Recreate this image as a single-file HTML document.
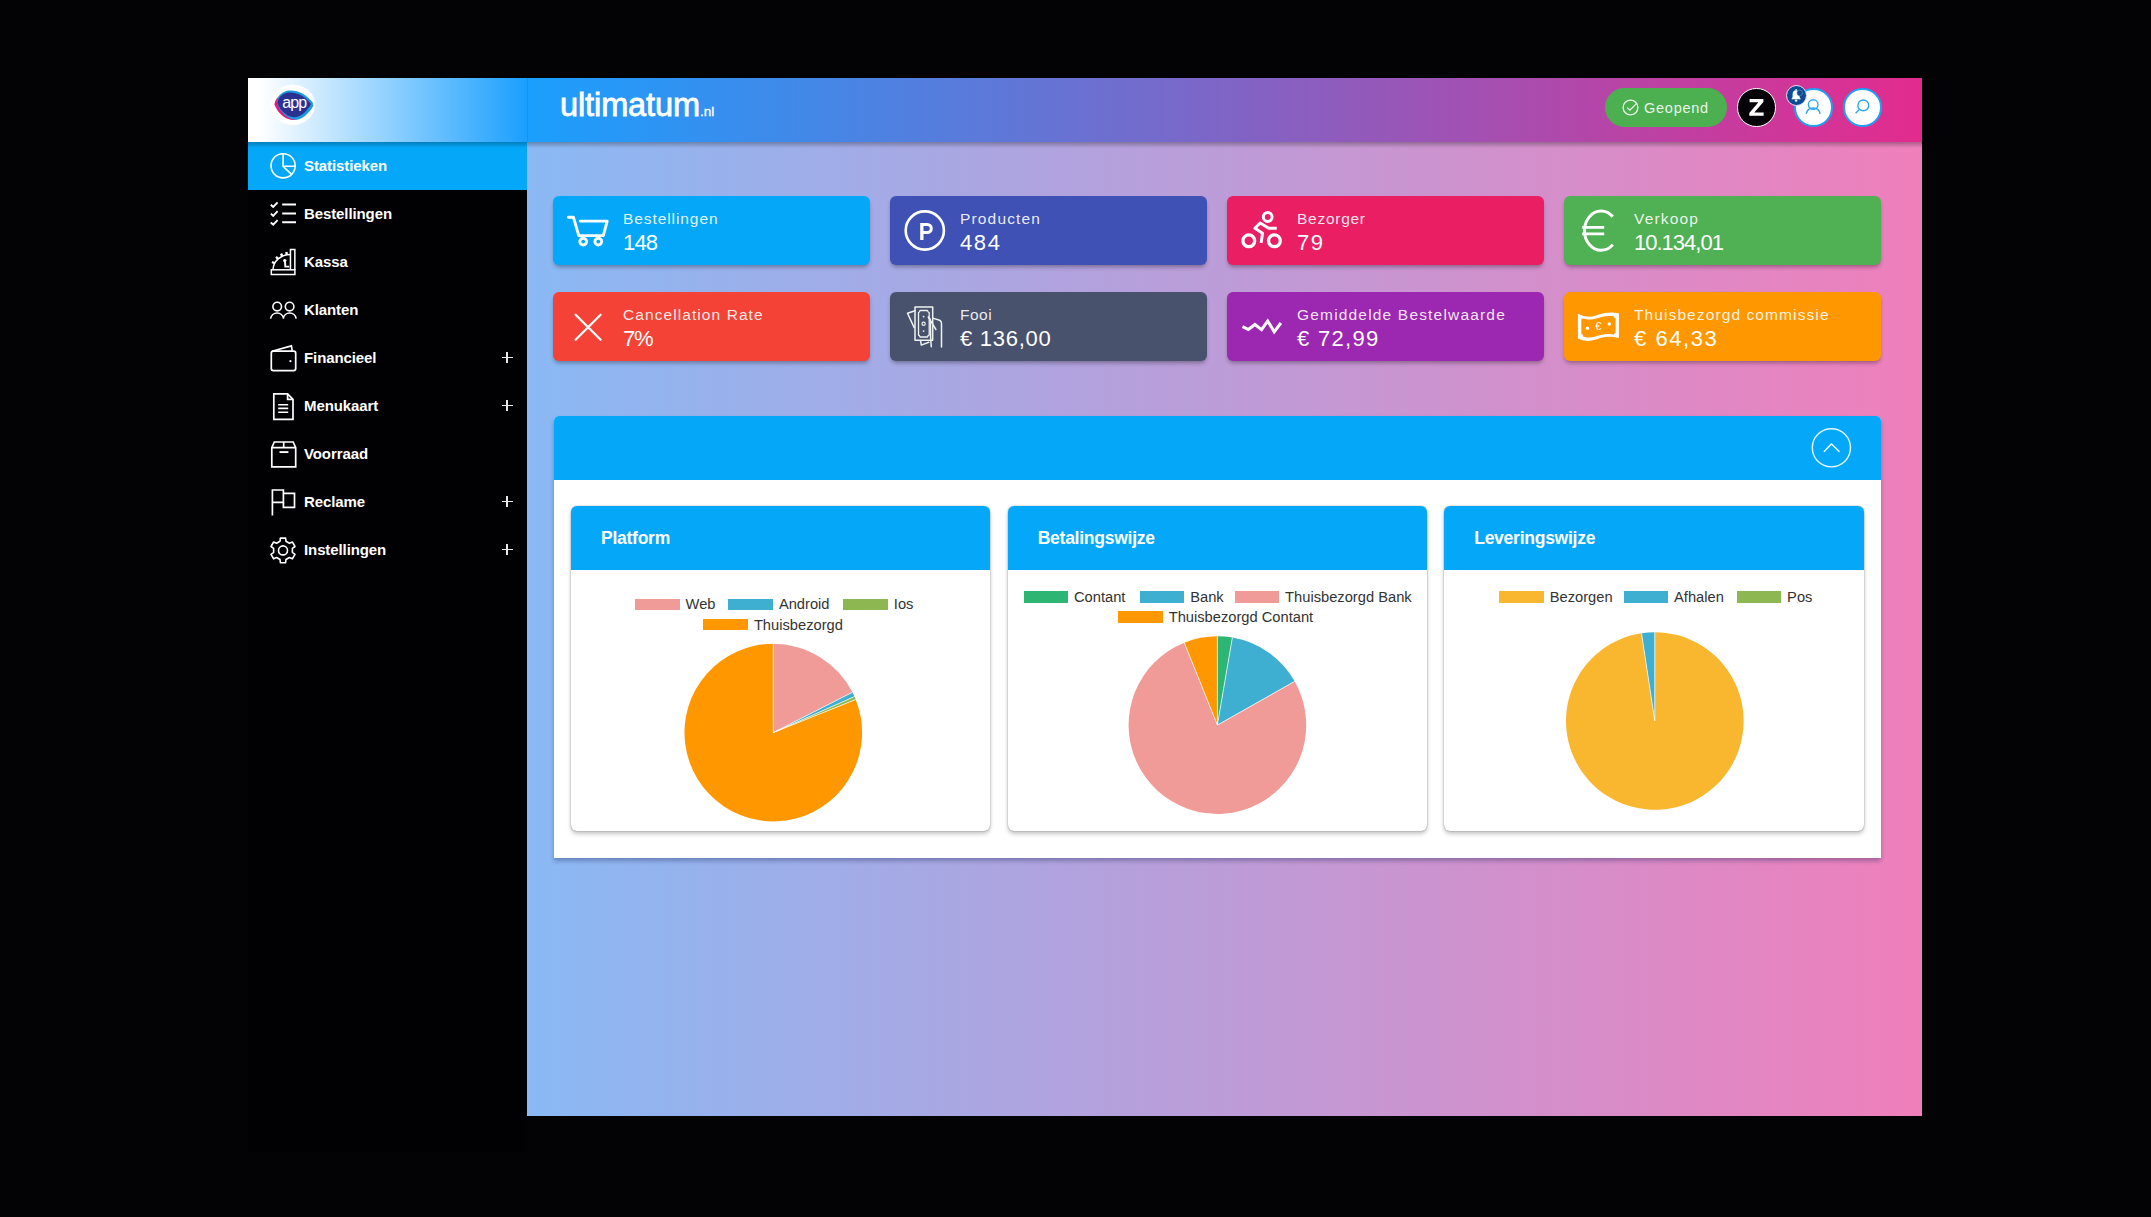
<!DOCTYPE html>
<html><head><meta charset="utf-8">
<style>
*{box-sizing:border-box;margin:0;padding:0}
html,body{width:2151px;height:1217px;overflow:hidden;background:#030204;font-family:"Liberation Sans",sans-serif}
.abs{position:absolute}
#side{left:248px;top:78px;width:279px;height:1074px;background:#010003}
#logo{left:248px;top:78px;width:279px;height:63.5px;background:linear-gradient(to right,#ffffff 0%,#fdfeff 5%,#1a9ffe 100%)}
#hdr{left:527px;top:78px;width:1395px;height:63.5px;background:linear-gradient(to right,#1a9ffe,#e32b8e)}
#main{left:527px;top:141.5px;width:1395px;height:974.5px;background:linear-gradient(to right,#8ab9f4,#ef7fbb)}
#hdrshadow{left:248px;top:141.5px;width:1674px;height:6px;background:linear-gradient(to bottom,rgba(0,0,0,.28),rgba(0,0,0,0))}
.mi{position:absolute;left:248px;width:279px;height:48px;color:#fff;font-weight:bold;font-size:15px}
.mi .t{position:absolute;left:56px;top:0;line-height:48px;letter-spacing:-0.1px}
.mi svg{position:absolute;left:20px;top:9px;width:30px;height:30px;overflow:visible}
.mi .plus{position:absolute;left:253.5px;top:18.5px;width:11px;height:11px}
.mi .plus:before{content:"";position:absolute;left:0;top:4.8px;width:11px;height:1.4px;background:#e8e8e8}
.mi .plus:after{content:"";position:absolute;left:4.8px;top:0;width:1.4px;height:11px;background:#e8e8e8}
.card{position:absolute;width:317px;height:69.4px;border-radius:6px;box-shadow:0 3px 4px -1px rgba(0,0,0,.33);color:#fff}
.card .tt{position:absolute;left:70px;top:13.5px;font-size:15.5px;line-height:18px;color:rgba(255,255,255,.9);white-space:nowrap;letter-spacing:0.95px}
.card .vv{position:absolute;left:70px;top:35.2px;font-size:22px;line-height:24px;white-space:nowrap}
.card svg{position:absolute;left:0;top:0;width:70px;height:70px;overflow:visible}
.ic{position:absolute;top:506px;width:419.3px;height:325px;background:#fff;border-radius:6px;box-shadow:0 0 1.5px rgba(0,0,0,.45),0 3px 4px rgba(0,0,0,.22)}
.ih{position:absolute;left:0;top:0;width:100%;height:63.7px;background:#05a8f9;border-radius:6px 6px 0 0;color:#fff;font-weight:bold;font-size:17.5px;line-height:64px;padding-left:29.8px;letter-spacing:-0.25px}
.lb{position:absolute;height:11.2px}
.lt{position:absolute;font-size:14.7px;line-height:18px;color:#333;white-space:nowrap}
</style></head><body>
<div id="side" class="abs"></div>
<div id="main" class="abs"></div>
<div id="logo" class="abs"></div>
<div id="hdr" class="abs"></div>
<div id="hdrshadow" class="abs"></div>
<div class="abs" style="left:526.5px;top:78px;width:1.5px;height:63.5px;background:rgba(0,40,90,.10)"></div>

<!-- active menu -->
<div class="abs" style="left:248px;top:141.5px;width:279px;height:48px;background:#05a8f9"></div>
<div class="abs" style="left:248px;top:141.5px;width:279px;height:6px;background:linear-gradient(to bottom,rgba(0,0,0,.25),rgba(0,0,0,0))"></div>

<!-- menu items -->
<div class="mi" style="top:141.5px"><svg viewBox="0 0 30 30" fill="none" stroke="#fff" stroke-width="1.6"><circle cx="15.1" cy="14.8" r="12.1"/><path d="M15.1 2.7V15.3H27.2M15.1 15.3L23.3 23.2"/></svg><span class="t">Statistieken</span></div>
<div class="mi" style="top:189.5px"><svg viewBox="0 0 30 30" fill="none" stroke="#fff" stroke-width="2"><path d="M2.8 5.7L5.2 7.9L9.6 3.3M2.8 14.6L5.2 16.8L9.6 12.2M2.8 23.5L5.2 25.7L9.6 21.1" stroke-width="1.9"/><path d="M14.2 5.5H28M14.2 14.4H28M14.2 23.3H28"/></svg><span class="t">Bestellingen</span></div>
<div class="mi" style="top:237.5px"><svg viewBox="0 0 30 30" fill="none" stroke="#fff" stroke-width="1.5"><rect x="3.3" y="22.8" width="23.6" height="4.7"/><path d="M22.45 22.8V2.55H26.85V22.8"/><path d="M5 22.8A17.5 15.5 0 0 1 22.45 7.4"/><path d="M6.64 16.25L4 15M10.13 11.84L8 9.9M14.28 9.11L13 6.6M18.86 7.64L18.3 4.9" stroke-width="2.4"/><circle cx="16.8" cy="13.6" r="1.7" fill="#fff" stroke="none"/><path d="M17 14.5L17.3 19.6H21.2" stroke-width="1.9"/></svg><span class="t">Kassa</span></div>
<div class="mi" style="top:285.5px"><svg viewBox="0 0 30 30" fill="none" stroke="#fff" stroke-width="1.6"><circle cx="9.2" cy="11.6" r="4.3"/><circle cx="21.6" cy="11.6" r="4.3"/><path d="M2.6 23.6A6.6 6.8 0 0 1 15.6 23.6M15.2 23.6A6.6 6.8 0 0 1 28.2 23.6"/></svg><span class="t">Klanten</span></div>
<div class="mi" style="top:333.5px"><svg viewBox="0 0 30 30" fill="none" stroke="#fff" stroke-width="1.7"><rect x="3.3" y="8.2" width="24.4" height="19.4" rx="2"/><path d="M4 8.2L23.4 2.9L24.2 7.8"/><circle cx="22.4" cy="18.2" r="1.1" fill="#fff" stroke="none"/></svg><span class="t">Financieel</span><span class="plus"></span></div>
<div class="mi" style="top:381.5px"><svg viewBox="0 0 30 30" fill="none" stroke="#fff" stroke-width="1.7"><path d="M5.8 2.9H19.6L25 8.4V28.3H5.8Z"/><path d="M19.6 2.9V8.4H25"/><path d="M10.2 13.7H20.2M10.2 17.4H20.2M10.2 21.3H20.2" stroke-width="1.6"/></svg><span class="t">Menukaart</span><span class="plus"></span></div>
<div class="mi" style="top:429.5px"><svg viewBox="0 0 30 30" fill="none" stroke="#fff" stroke-width="1.7"><path d="M3.8 8.6V27.9H27.7V8.6L25.2 3H6.3Z"/><path d="M3.8 8.6H27.7M15.7 3V8.6"/><path d="M11.5 13.1H20.4" stroke-width="1.9"/></svg><span class="t">Voorraad</span></div>
<div class="mi" style="top:477.5px"><svg viewBox="0 0 30 30" fill="none" stroke="#fff" stroke-width="1.7"><path d="M4.4 28.6V3H15.4V15.3H4.4"/><path d="M15.4 6.4H26.5V20.4H15.4V15.3"/></svg><span class="t">Reclame</span><span class="plus"></span></div>
<div class="mi" style="top:525.5px"><svg viewBox="0 0 30 30" fill="none" stroke="#fff" stroke-width="1.6"><path d="M12.03 6.27 L12.38 3.08 L17.62 3.08 L17.97 6.27 L21.42 8.27 L24.36 6.97 L26.98 11.51 L24.39 13.40 L24.39 17.40 L26.98 19.29 L24.36 23.83 L21.42 22.53 L17.97 24.53 L17.62 27.72 L12.38 27.72 L12.03 24.53 L8.58 22.53 L5.64 23.83 L3.02 19.29 L5.61 17.40 L5.61 13.40 L3.02 11.51 L5.64 6.97 L8.58 8.27Z" stroke-linejoin="round"/><circle cx="15" cy="15.4" r="4.5"/></svg><span class="t">Instellingen</span><span class="plus"></span></div>

<!-- logo -->
<svg class="abs" style="left:268px;top:82px;width:52px;height:46px" viewBox="0 0 52 46">
<defs><filter id="bl" x="-20%" y="-20%" width="140%" height="140%"><feGaussianBlur stdDeviation="0.7"/></filter></defs>
<ellipse cx="24.8" cy="22.8" rx="22.3" ry="20.2" fill="#fff" filter="url(#bl)"/>
<path transform="translate(-1.6 1.4)" d="M8 21C9 15 13 10.5 20 9.5C28 8.5 37 12 44.5 22C40 30 33 36.5 27 36.5C20 36.5 12 31 8 21Z" fill="#e5157c"/>
<path transform="translate(0.6 -0.9)" d="M8 21C9 15 13 10.5 20 9.5C28 8.5 37 12 44.5 22C40 30 33 36.5 27 36.5C20 36.5 12 31 8 21Z" fill="#1d9be2"/>
<path transform="translate(1.2 1.2)" d="M8 21C9 15 13 10.5 20 9.5C28 8.5 37 12 44.5 22C40 30 33 36.5 27 36.5C20 36.5 12 31 8 21Z" fill="#1d9be2"/>
<path d="M9.3 21C10.3 15.5 14 11.5 20.3 10.6C28 9.8 36 13 43 22C39 29.3 33 35 27 35.2C20.5 35.4 13 30.5 9.3 21Z" fill="#2b3190"/>
<text x="26.3" y="25.8" font-family="Liberation Sans" font-size="16" fill="#fff" text-anchor="middle" letter-spacing="-0.9">app</text>
</svg>
<!-- brand -->
<div class="abs" style="left:560px;top:84.7px;font-size:32.5px;color:#fff;line-height:40px;letter-spacing:-0.1px;white-space:nowrap;-webkit-text-stroke:0.8px #fff">ultimatum<span style="font-size:13.5px;letter-spacing:0;-webkit-text-stroke:0.3px #fff">.nl</span></div>
<!-- open pill -->
<div class="abs" style="left:1604.5px;top:88px;width:122px;height:38.5px;border-radius:19.5px;background:#4caf50"></div>
<svg class="abs" style="left:1620px;top:97px;width:22px;height:22px;overflow:visible" viewBox="0 0 22 22" fill="none" stroke="#e8f5e9" stroke-width="1.3"><circle cx="10.5" cy="10.5" r="7.4"/><path d="M7.2 10.6L9.9 13.2L16.8 6.2"/></svg>
<div class="abs" style="left:1644px;top:99px;font-size:14.5px;color:#e8f5e9;line-height:18px;letter-spacing:0.75px">Geopend</div>
<!-- Z -->
<div class="abs" style="left:1737px;top:88px;width:38.5px;height:38.5px;border-radius:50%;background:#050208;border:1.6px solid #fff"></div><svg class="abs" style="left:1737px;top:88px;width:38.5px;height:38.5px" viewBox="0 0 38.5 38.5"><path d="M12.6 11H26.4V13.9L17.3 24.6H26.6V27.8H12.3V24.9L21.4 14.2H12.6Z" fill="#fff"/></svg>
<!-- user -->
<div class="abs" style="left:1794px;top:88px;width:38.5px;height:38.5px;border-radius:50%;background:#fff;border:2.2px solid #1ea0f5"></div>
<svg class="abs" style="left:1794px;top:88px;width:38px;height:38px" viewBox="0 0 38 38" fill="none" stroke="#2ea6f2" stroke-width="1.4"><circle cx="19.2" cy="16.6" r="4.8"/><path d="M12.2 25.8A7.2 7.6 0 0 1 26.2 25.8"/></svg>
<!-- search -->
<div class="abs" style="left:1843px;top:88px;width:38.5px;height:38.5px;border-radius:50%;background:#fff;border:2.2px solid #1ea0f5"></div>
<svg class="abs" style="left:1843px;top:88px;width:38px;height:38px" viewBox="0 0 38 38" fill="none" stroke="#2ea6f2" stroke-width="1.4"><circle cx="20.3" cy="17.4" r="5.4"/><path d="M16.4 21.4L12.6 25.2"/></svg>
<!-- bell -->
<div class="abs" style="left:1786px;top:84.5px;width:21px;height:21px;border-radius:50%;background:#0b4d93;border:1px solid #f6dbe9"></div>
<svg class="abs" style="left:1786px;top:84.5px;width:21px;height:21px" viewBox="0 0 21 21"><path d="M10 5.2C7.6 5.2 6.6 7 6.6 9.2V12.2L5.3 14.3H14.9L13.6 12.2V9.2C13.6 7 12.6 5.2 10 5.2Z" fill="#fff"/><circle cx="10.1" cy="15.6" r="1.2" fill="#fff"/><circle cx="10.1" cy="4.8" r="0.8" fill="#fff"/><circle cx="13.8" cy="7.9" r="2.8" fill="#0b4d93" stroke="#5d8fc9" stroke-width="0.6"/></svg>

<!-- stat cards -->
<div class="card" style="left:553px;top:196px;background:#05a8f9"><svg viewBox="0 0 70 70" fill="none" stroke="#fff" stroke-width="2.9" stroke-linejoin="round" stroke-linecap="round"><path d="M15.5 21.2H20.4L25.8 39.6H50.3L54.2 25.1H27.2"/><circle cx="30.2" cy="45.6" r="3.4"/><circle cx="45.3" cy="45.6" r="3.4"/></svg><div class="tt" style="letter-spacing:0.92px">Bestellingen</div><div class="vv" style="letter-spacing:-0.8px">148</div></div>
<div class="card" style="left:890px;top:196px;background:#3f51b5"><svg viewBox="0 0 70 70" fill="none" stroke="#fff" stroke-width="2.6"><circle cx="34.8" cy="34.5" r="19.1"/><path d="M30.2 27H37.3A5.5 5.5 0 0 1 37.3 38H33.5V44.1H30.2ZM33.5 30V35H37.3A2.5 2.5 0 0 0 37.3 30Z" fill="#fff" stroke="none" fill-rule="evenodd"/></svg><div class="tt" style="letter-spacing:1.16px">Producten</div><div class="vv" style="letter-spacing:1.6px">484</div></div>
<div class="card" style="left:1227px;top:196px;background:#e91e63"><svg viewBox="0 0 70 70" fill="none" stroke="#fff" stroke-width="3" stroke-linejoin="round"><circle cx="40.7" cy="21" r="4.4"/><circle cx="21.8" cy="44.8" r="5.9" stroke-width="3.3"/><circle cx="47.4" cy="44.8" r="5.9" stroke-width="3.3"/><path d="M49.8 32.2H41.7L33.1 27L27.9 32.2L35.5 37.2L34.1 46.9"/></svg><div class="tt" style="letter-spacing:0.73px">Bezorger</div><div class="vv" style="letter-spacing:1.59px">79</div></div>
<div class="card" style="left:1564px;top:196px;background:#50b054"><svg viewBox="0 0 70 70" fill="none" stroke="#fff" stroke-width="3"><path d="M48.8 20.8A16.6 19.6 0 1 0 48.8 48.6"/><path d="M18.2 31.4H40.2M18.2 37.9H40.2" stroke-width="2.9"/></svg><div class="tt" style="letter-spacing:1.18px">Verkoop</div><div class="vv" style="letter-spacing:-1.0px">10.134,01</div></div>

<div class="card" style="left:553px;top:292px;background:#f44336"><svg viewBox="0 0 70 70" fill="none" stroke="#fff" stroke-width="2.3" stroke-linecap="round"><path d="M22.6 22.7L47.6 47.7M47.6 22.7L22.6 47.7"/></svg><div class="tt" style="letter-spacing:1.08px">Cancellation Rate</div><div class="vv" style="letter-spacing:-1.2px">7%</div></div>
<div class="card" style="left:890px;top:292px;background:#48526c"><svg viewBox="0 0 70 70" fill="none" stroke="#eef2f0" stroke-width="1.5" stroke-linejoin="round" stroke-linecap="round"><path d="M25 18.8L17.5 21.3L24.2 35.6"/><rect x="25" y="14.9" width="17.7" height="33.4"/><path d="M30 18.5H37.5Q37.8 20.3 39.2 20.6V43Q37.8 43.3 37.5 45H30Q29.7 43.3 28.5 43V20.6Q29.7 20.3 30 18.5Z" stroke-width="1.3"/><circle cx="33.6" cy="24.6" r="0.9" fill="#eef2f0" stroke="none"/><circle cx="33.6" cy="31.8" r="1.6" stroke-width="1.2"/><circle cx="33.6" cy="39.1" r="0.9" fill="#eef2f0" stroke="none"/><path d="M42.7 26.1L49.6 28.3Q51.5 29.2 51.5 31.5V55"/><path d="M38.4 25.1L45.9 37.5"/><path d="M38.4 25.1Q40.4 26 40.4 29L40.6 46L41.3 54.8"/><path d="M30.5 48.4L31.3 53.1L38.8 50.3"/></svg><div class="tt" style="letter-spacing:0.5px">Fooi</div><div class="vv" style="letter-spacing:0.73px">€ 136,00</div></div>
<div class="card" style="left:1227px;top:292px;background:#9c27b0"><svg viewBox="0 0 70 70" fill="none" stroke="#fff" stroke-width="2.8" stroke-linejoin="round" stroke-linecap="round"><path d="M15.5 34.6L21.4 37.5L27.9 32.5L34.6 37.7L40.7 28.9L47.2 39.8L53.9 31" stroke-width="3" stroke-linecap="butt" stroke-linejoin="miter"/></svg><div class="tt" style="letter-spacing:1.18px">Gemiddelde Bestelwaarde</div><div class="vv" style="letter-spacing:1.3px">€ 72,99</div></div>
<div class="card" style="left:1564px;top:292px;background:#ff9800"><svg viewBox="0 0 70 70"><path d="M13.9 21.7C20 25 26 25.5 32 23.5C38 21.5 44 19.5 54.9 21.3V46C44 43.5 38 45.5 32 47.5C26 49.5 20 49.5 13.9 46.5Z" fill="#fff"/><path d="M17.3 25.4C22 27.8 27 28 32 26.5C37.5 24.8 43 23 51.6 24.4V42.9C43 41 37.5 42.5 32 44.3C27 46 22 46.2 17.3 43.8Z" fill="#ff9800"/><circle cx="17.3" cy="25.4" r="1.8" fill="#fff"/><circle cx="51.6" cy="24.4" r="1.8" fill="#fff"/><circle cx="51.6" cy="42.9" r="1.8" fill="#fff"/><circle cx="17.3" cy="43.8" r="1.8" fill="#fff"/><circle cx="23.4" cy="36.3" r="1.7" fill="#fff"/><circle cx="45.3" cy="32" r="1.7" fill="#fff"/><text x="34.3" y="38" font-family="Liberation Sans" font-size="11" fill="#fff" text-anchor="middle">€</text></svg><div class="tt" style="letter-spacing:1.1px">Thuisbezorgd commissie</div><div class="vv" style="letter-spacing:1.57px">€ 64,33</div></div>

<div class="abs" style="left:554px;top:416px;width:1327px;height:442px;background:#fff;border-radius:5px 5px 0 0;box-shadow:0 3px 4px rgba(30,40,90,.35)"></div>
<div class="abs" style="left:554px;top:416px;width:1327px;height:63.7px;background:#05a8f9;border-radius:5px 5px 0 0"></div>
<svg class="abs" style="left:1810px;top:426px;width:44px;height:44px" viewBox="0 0 44 44" fill="none" stroke="#fff" stroke-width="1.4"><circle cx="21.4" cy="21.8" r="19.1" stroke="#e8f6fe"/><path d="M13.9 25.7L21.4 18L29.5 25.7" stroke="#f4fbff"/></svg>
<div class="ic" style="left:571.2px"><div class="ih">Platform</div></div>
<div class="ic" style="left:1007.9px"><div class="ih">Betalingswijze</div></div>
<div class="ic" style="left:1444.4px"><div class="ih">Leveringswijze</div></div>
<div class="lb" style="left:634.6px;top:598.6px;width:45px;background:#f19b98"></div><div class="lt" style="left:685.6px;top:595.2px">Web</div>
<div class="lb" style="left:727.9px;top:598.6px;width:45px;background:#3eaed1"></div><div class="lt" style="left:778.9px;top:595.2px">Android</div>
<div class="lb" style="left:842.8px;top:598.6px;width:45px;background:#8db750"></div><div class="lt" style="left:893.8px;top:595.2px">Ios</div>
<div class="lb" style="left:702.9px;top:618.9px;width:45px;background:#ff9800"></div><div class="lt" style="left:753.9px;top:615.5px">Thuisbezorgd</div>
<div class="lb" style="left:1023.5px;top:591.4px;width:44.5px;background:#2db673"></div><div class="lt" style="left:1074.0px;top:588.0px">Contant</div>
<div class="lb" style="left:1139.7px;top:591.4px;width:44.5px;background:#3eaed1"></div><div class="lt" style="left:1190.2px;top:588.0px">Bank</div>
<div class="lb" style="left:1234.6px;top:591.4px;width:44.5px;background:#f19b98"></div><div class="lt" style="left:1285.1px;top:588.0px">Thuisbezorgd Bank</div>
<div class="lb" style="left:1118.2px;top:611.4px;width:44.5px;background:#ff9800"></div><div class="lt" style="left:1168.7px;top:608.0px">Thuisbezorgd Contant</div>
<div class="lb" style="left:1498.7px;top:591.4px;width:45px;background:#f9b730"></div><div class="lt" style="left:1549.7px;top:588.0px">Bezorgen</div>
<div class="lb" style="left:1623.5px;top:591.4px;width:44.5px;background:#3eaed1"></div><div class="lt" style="left:1674.0px;top:588.0px">Afhalen</div>
<div class="lb" style="left:1736.6px;top:591.4px;width:44.5px;background:#8db750"></div><div class="lt" style="left:1787.1px;top:588.0px">Pos</div>
<svg class="abs" style="left:0;top:0;width:2151px;height:1217px;pointer-events:none" viewBox="0 0 2151 1217">
<path d="M773.30 732.60L773.30 643.80A88.8 88.8 0 0 1 852.42 692.29Z" fill="#f19b98"/>
<path d="M773.30 732.60L852.42 692.29A88.8 88.8 0 0 1 854.49 696.62Z" fill="#3eaed1"/>
<path d="M773.30 732.60L854.49 696.62A88.8 88.8 0 0 1 855.69 699.48Z" fill="#8db750"/>
<path d="M773.30 732.60L855.69 699.48A88.8 88.8 0 1 1 773.30 643.80Z" fill="#ff9800"/>
<path d="M773.30 732.60L773.30 643.80" stroke="#fff" stroke-width="0.7"/>
<path d="M773.30 732.60L852.42 692.29" stroke="#fff" stroke-width="0.7"/>
<path d="M773.30 732.60L854.49 696.62" stroke="#fff" stroke-width="0.7"/>
<path d="M773.30 732.60L855.69 699.48" stroke="#fff" stroke-width="0.7"/>
<path d="M1217.40 725.10L1217.40 636.30A88.8 88.8 0 0 1 1232.36 637.57Z" fill="#2db673"/>
<path d="M1217.40 725.10L1232.36 637.57A88.8 88.8 0 0 1 1294.69 681.37Z" fill="#3eaed1"/>
<path d="M1217.40 725.10L1294.69 681.37A88.8 88.8 0 1 1 1184.28 642.71Z" fill="#f19b98"/>
<path d="M1217.40 725.10L1184.28 642.71A88.8 88.8 0 0 1 1217.40 636.30Z" fill="#ff9800"/>
<path d="M1217.40 725.10L1217.40 636.30" stroke="#fff" stroke-width="0.7"/>
<path d="M1217.40 725.10L1232.36 637.57" stroke="#fff" stroke-width="0.7"/>
<path d="M1217.40 725.10L1294.69 681.37" stroke="#fff" stroke-width="0.7"/>
<path d="M1217.40 725.10L1184.28 642.71" stroke="#fff" stroke-width="0.7"/>
<path d="M1654.80 721.00L1654.80 632.20A88.8 88.8 0 1 1 1641.52 633.20Z" fill="#f9b730"/>
<path d="M1654.80 721.00L1641.52 633.20A88.8 88.8 0 0 1 1654.80 632.20Z" fill="#3eaed1"/>
<path d="M1654.80 721.00L1654.80 632.20" stroke="#fff" stroke-width="0.7"/>
<path d="M1654.80 721.00L1641.52 633.20" stroke="#fff" stroke-width="0.7"/>
</svg>
</body></html>
